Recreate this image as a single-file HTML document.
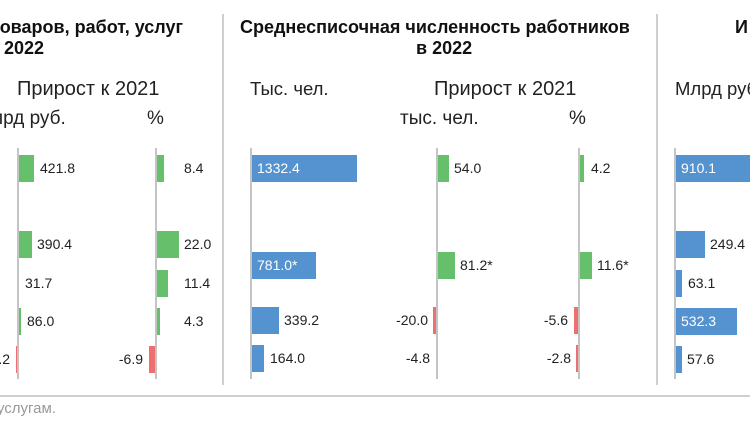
<!DOCTYPE html>
<html><head><meta charset="utf-8"><style>
body{margin:0;width:750px;height:430px;overflow:hidden;background:#fff;position:relative;font-family:"Liberation Sans","DejaVu Sans",sans-serif;color:#222}
div{position:absolute}
.t{font-weight:bold;font-size:18px;line-height:21px;white-space:nowrap;color:#111}
.h{font-size:20px;line-height:22px;white-space:nowrap;color:#222}
.h2{font-size:18.5px;line-height:22px;white-space:nowrap;color:#222}
.s{font-size:19px;line-height:22px;white-space:nowrap;color:#222}
.ax{width:2px;background:#c4c4c4;top:148px;height:231px}
.dv{width:2px;background:#cfcfcf;top:14px;height:371px}
.g{background:#66bf6a;height:27px}
.r{background:#ef6f6f;height:27px}
.b{background:#5593d0;height:27px}
.l{font-size:14px;line-height:27px;height:27px;white-space:nowrap;color:#222}
.w{color:#fff}
</style></head><body>
<div class="t" style="right:567px;top:17px">товаров, работ, услуг</div>
<div class="t" style="left:4px;top:38px">2022</div>
<div class="t" style="left:240px;top:17px">Среднесписочная численность работников</div>
<div class="t" style="left:416px;top:38px">в 2022</div>
<div class="t" style="left:735px;top:17px">И</div>

<div class="h" style="left:17px;top:78px">Прирост к 2021</div>
<div class="s" style="left:-8px;top:108px">лрд руб.</div>
<div class="s" style="left:147px;top:108px">%</div>
<div class="h2" style="left:250px;top:78px">Тыс. чел.</div>
<div class="h" style="left:434px;top:78px">Прирост к 2021</div>
<div class="s" style="left:400px;top:108px">тыс. чел.</div>
<div class="s" style="left:569px;top:108px">%</div>
<div class="h2" style="left:675px;top:78px">Млрд руб.</div>

<div class="dv" style="left:222px"></div>
<div class="dv" style="left:656px"></div>

<div class="g" style="left:18px;width:16px;top:155px"></div><div class="l" style="left:40px;top:155px">421.8</div>
<div class="g" style="left:18px;width:14px;top:231px"></div><div class="l" style="left:37px;top:231px">390.4</div>
<div class="g" style="left:18px;width:1px;top:270px"></div><div class="l" style="left:25px;top:270px">31.7</div>
<div class="g" style="left:18px;width:3px;top:308px"></div><div class="l" style="left:27px;top:308px">86.0</div>
<div class="r" style="left:16px;width:2px;top:346px"></div><div class="l" style="right:740px;top:346px">-1.2</div>
<div class="ax" style="left:17px"></div>
<div class="g" style="left:155px;width:9px;top:155px"></div><div class="l" style="left:184px;top:155px">8.4</div>
<div class="g" style="left:155px;width:24px;top:231px"></div><div class="l" style="left:184px;top:231px">22.0</div>
<div class="g" style="left:155px;width:13px;top:270px"></div><div class="l" style="left:184px;top:270px">11.4</div>
<div class="g" style="left:155px;width:5px;top:308px"></div><div class="l" style="left:184px;top:308px">4.3</div>
<div class="r" style="left:149px;width:6px;top:346px"></div><div class="l" style="right:607px;top:346px">-6.9</div>
<div class="ax" style="left:155px"></div>
<div class="b" style="left:251px;width:106px;top:155px"></div><div class="l w" style="left:257px;top:155px">1332.4</div>
<div class="b" style="left:251px;width:65px;top:252px"></div><div class="l w" style="left:257px;top:252px">781.0*</div>
<div class="b" style="left:251px;width:28px;top:307px"></div><div class="l" style="left:284px;top:307px">339.2</div>
<div class="b" style="left:251px;width:13px;top:345px"></div><div class="l" style="left:270px;top:345px">164.0</div>
<div class="ax" style="left:250px"></div>
<div class="g" style="left:437px;width:12px;top:155px"></div><div class="l" style="left:454px;top:155px">54.0</div>
<div class="g" style="left:437px;width:18px;top:252px"></div><div class="l" style="left:460px;top:252px">81.2*</div>
<div class="r" style="left:433px;width:4px;top:307px"></div><div class="l" style="right:322px;top:307px">-20.0</div>
<div class="r" style="left:436px;width:1px;top:345px;opacity:.4"></div><div class="l" style="right:320px;top:345px">-4.8</div>
<div class="ax" style="left:436px"></div>
<div class="g" style="left:579px;width:5px;top:155px"></div><div class="l" style="left:591px;top:155px">4.2</div>
<div class="g" style="left:579px;width:13px;top:252px"></div><div class="l" style="left:597px;top:252px">11.6*</div>
<div class="r" style="left:574px;width:5px;top:307px"></div><div class="l" style="right:182px;top:307px">-5.6</div>
<div class="r" style="left:576px;width:3px;top:345px"></div><div class="l" style="right:179px;top:345px">-2.8</div>
<div class="ax" style="left:578px"></div>
<div class="b" style="left:675px;width:80px;top:155px"></div><div class="l w" style="left:681px;top:155px">910.1</div>
<div class="b" style="left:675px;width:30px;top:231px"></div><div class="l" style="left:710px;top:231px">249.4</div>
<div class="b" style="left:675px;width:7px;top:270px"></div><div class="l" style="left:688px;top:270px">63.1</div>
<div class="b" style="left:675px;width:62px;top:308px"></div><div class="l w" style="left:681px;top:308px">532.3</div>
<div class="b" style="left:675px;width:7px;top:346px"></div><div class="l" style="left:687px;top:346px">57.6</div>
<div class="ax" style="left:674px"></div>

<div style="left:0;top:395px;width:750px;height:2px;background:#cfcfcf"></div>
<div style="right:694px;top:400px;font-size:15px;color:#999;white-space:nowrap">услугам.</div>
</body></html>
